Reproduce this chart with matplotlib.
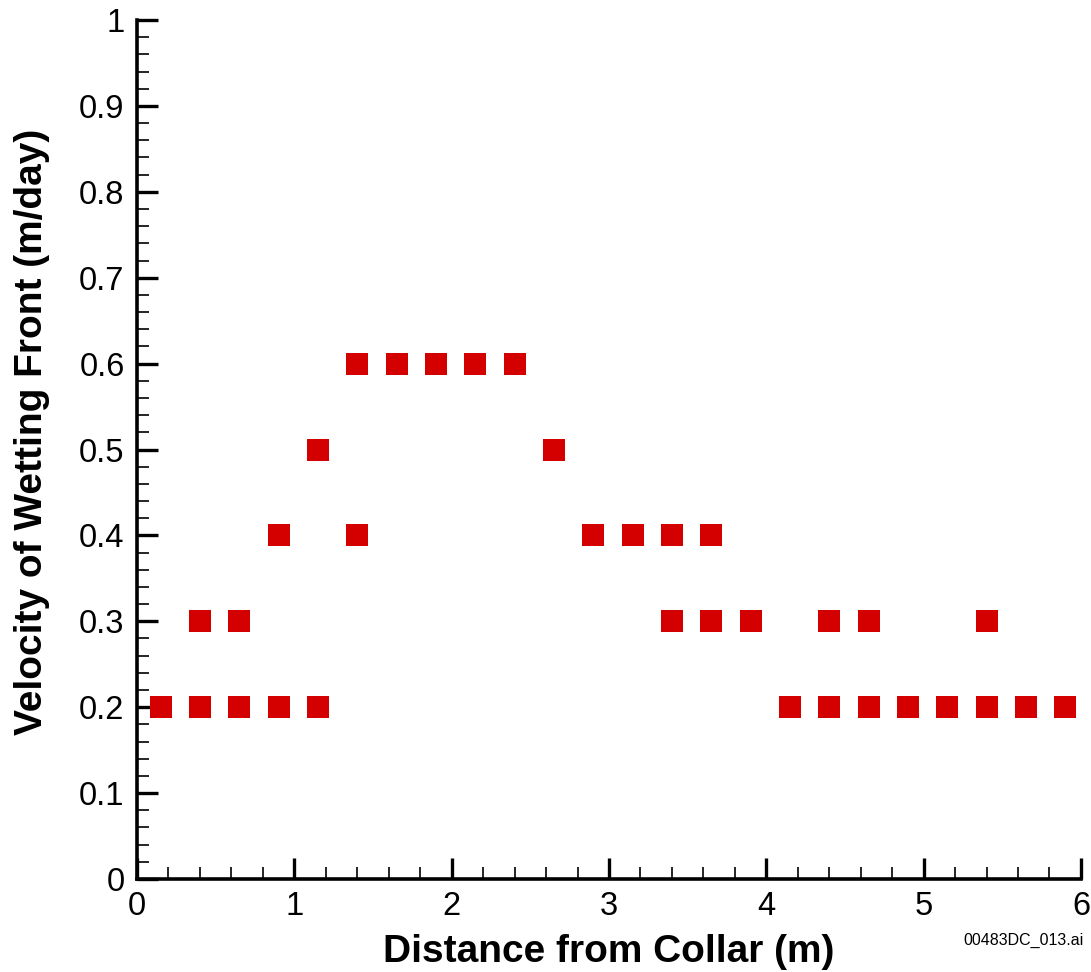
import numpy as np
import matplotlib.pyplot as plt
from matplotlib.ticker import MultipleLocator

# distance from collar (m) and wetting front velocity (m/day)
dist = [0.15, 0.4, 0.4, 0.65, 0.65, 0.9, 0.9, 1.15, 1.15, 1.4, 1.4,
        1.65, 1.9, 2.15, 2.4, 2.65, 2.9, 3.15, 3.4, 3.4, 3.65, 3.65,
        3.9, 4.15, 4.4, 4.4, 4.65, 4.65, 4.9, 5.15, 5.4, 5.4, 5.65, 5.9]
vel = [0.2, 0.2, 0.3, 0.2, 0.3, 0.2, 0.4, 0.2, 0.5, 0.4, 0.6,
       0.6, 0.6, 0.6, 0.6, 0.5, 0.4, 0.4, 0.4, 0.3, 0.4, 0.3,
       0.3, 0.2, 0.3, 0.2, 0.3, 0.2, 0.2, 0.2, 0.3, 0.2, 0.2, 0.2]

plt.rcParams['font.family'] = ['Liberation Sans', 'DejaVu Sans']

fig = plt.figure(figsize=(10.91, 9.72), dpi=100)
ax = fig.add_axes([0.1256, 0.0957, 0.8652, 0.8837])

ax.scatter(dist, vel, marker='s', s=16**2, color='#d40000', linewidths=0, zorder=3)

ax.set_xlim(0, 6)
ax.set_ylim(0, 1)
ax.xaxis.set_major_locator(MultipleLocator(1))
ax.xaxis.set_minor_locator(MultipleLocator(0.2))
ax.yaxis.set_minor_locator(MultipleLocator(0.02))
ax.set_yticks(np.arange(0, 1.01, 0.1))
ax.set_yticklabels(['0', '0.1', '0.2', '0.3', '0.4', '0.5', '0.6', '0.7', '0.8', '0.9', '1'])

ax.spines['top'].set_visible(False)
ax.spines['right'].set_visible(False)
ax.spines['left'].set_linewidth(2.6)
ax.spines['bottom'].set_linewidth(2.6)
ax.tick_params(which='major', direction='in', length=15, width=2.4, labelsize=23.5, pad=9)
ax.tick_params(which='minor', direction='in', length=8.5, width=1.2)

ax.set_xlabel('Distance from Collar (m)', fontsize=28, fontweight='bold', labelpad=8)
ax.set_ylabel('Velocity of Wetting Front (m/day)', fontsize=28, fontweight='bold')
ax.yaxis.set_label_coords(-0.092, 0.52)

fig.text(0.993, 0.032, '00483DC_013.ai', fontsize=11.5, ha='right', va='center')

fig.savefig('out.png', dpi=100)
